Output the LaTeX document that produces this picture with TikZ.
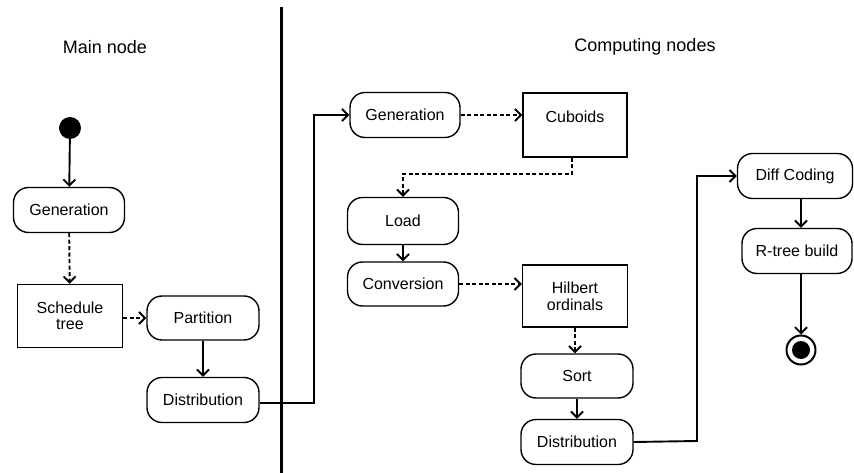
\documentclass[tikz,border=0pt]{standalone}
\usepackage{fontspec}
\setmainfont{Liberation Sans}
\usetikzlibrary{arrows.meta}
\tikzset{
  action/.style={draw, line width=1.4pt, rounded corners=15pt, minimum width=111pt, minimum height=45pt, font=\fontsize{16}{18}\selectfont, inner sep=2pt},
  objbox/.style={draw, line width=1.4pt, minimum width=105pt, minimum height=63pt, font=\fontsize{16}{18}\selectfont, align=center, inner sep=2pt},
  flow/.style={line width=1.9pt, -{Straight Barb[length=6pt,width=12pt,line width=1.9pt]}},
  objflow/.style={flow, dash pattern=on 4pt off 2.5pt},
  title/.style={font=\fontsize{18}{20}\selectfont},
}
\begin{document}
\begin{tikzpicture}[x=1pt,y=-1pt]
\useasboundingbox (0,0) rectangle (854,473);

% swimlane titles and divider
\node[title] (tmain) at (105,47) {Main node};
\node[title] (tcomp) at (645,47) {Computing nodes};
\coordinate (dtop) at (281,7);
\coordinate (dbot) at (281,473);
\draw[line width=3pt] (dtop) -- (dbot);

% main node lane
\node[circle, fill=black, minimum size=22pt, inner sep=0pt] (init) at (70,128) {};
\node[action] (gen1) at (69,210) {Generation};
\node[objbox] (sched) at (70,316) {Schedule\\[-2pt]tree};
\node[action, minimum width=112pt, minimum height=44pt] (part) at (203,318) {Partition};
\node[action, minimum width=112pt] (dist1) at (203,400) {Distribution};

% computing nodes lane
\node[action, minimum width=110pt] (gen2) at (405,115) {Generation};
\node[objbox, minimum width=104pt, minimum height=64pt] (cub) at (575,125) {\raisebox{8pt}[\height][\depth]{Cuboids}};
\node[action, minimum height=47pt] (load) at (403,221) {Load};
\node[action, minimum height=44pt] (conv) at (403,284) {Conversion};
\node[objbox, minimum height=62pt] (hil) at (575,296) {Hilbert\\[-1pt]ordinals};
\node[action, minimum width=112pt, minimum height=44pt] (sort) at (577,376) {Sort};
\node[action, minimum width=112pt] (dist2) at (577,442) {Distribution};
\node[action, minimum width=115pt] (diff) at (795,176) {Diff Coding};
\node[action, minimum width=110pt] (rtree) at (797,251) {R-tree build};
\node[circle, draw, line width=2pt, minimum size=29pt, inner sep=0pt] (final) at (801,350) {};
\node[circle, fill=black, minimum size=18pt, inner sep=0pt] (finalc) at (final.center) {};

% control and object flows
\draw[flow] (init) -- (gen1);
\draw[objflow] (gen1) -- (sched);
\draw[objflow] (sched.east |- part.west) -- (part.west);
\draw[flow] (part) -- (dist1);
\coordinate (j1) at (314,403);
\draw[flow] (dist1.east |- j1) -- (j1) |- (gen2.west);
\draw[objflow] (gen2.east) -- (gen2.east -| cub.west);
\coordinate (j2) at (572,174);
\draw[objflow] (cub.south -| j2) -- (j2) -| (load.north);
\draw[flow] (load) -- (conv);
\draw[objflow] (conv.east) -- (conv.east -| hil.west);
\draw[objflow] (hil.south) -- (sort.north -| hil.south);
\draw[flow] (sort) -- (dist2);
\coordinate (j3) at (697,441);
\draw[flow] (dist2.east) -- (j3) |- (diff.west);
\draw[flow] (diff.south -| 801,0) -- (rtree.north -| 801,0);
\draw[flow] (rtree.south -| final.north) -- (final.north);
\end{tikzpicture}
\end{document}
